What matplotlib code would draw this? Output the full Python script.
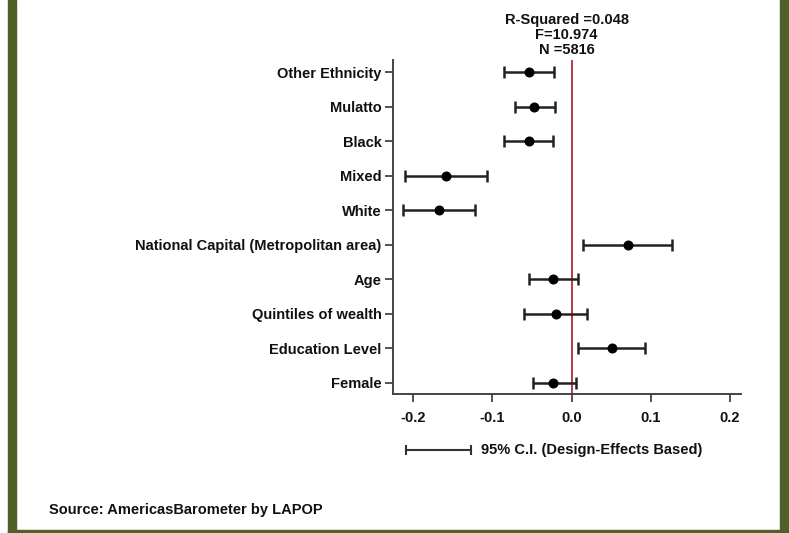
import matplotlib.pyplot as plt
from matplotlib.patches import Rectangle

plt.rcParams["font.family"] = ["Liberation Sans", "DejaVu Sans"]
plt.rcParams["font.weight"] = "bold"

# rows, bottom to top
labels = [
    "Female",
    "Education Level",
    "Quintiles of wealth",
    "Age",
    "National Capital (Metropolitan area)",
    "White",
    "Mixed",
    "Black",
    "Mulatto",
    "Other Ethnicity",
]
coef = [-0.023, 0.051, -0.020, -0.024, 0.071, -0.168, -0.159, -0.054, -0.047, -0.054]
ci_low = [-0.049, 0.008, -0.060, -0.054, 0.014, -0.213, -0.210, -0.085, -0.072, -0.085]
ci_high = [0.005, 0.093, 0.020, 0.008, 0.127, -0.122, -0.107, -0.023, -0.021, -0.022]

stats_text = "R-Squared =0.048\nF=10.974\nN =5816"
xticks = [-0.2, -0.1, 0.0, 0.1, 0.2]

W, H = 789, 533
FS = 10.5
fig = plt.figure(figsize=(W / 100, H / 100), dpi=100, facecolor="white")

# green frame (cropped screenshot: left, right, bottom)
green = "#4f6128"
for x0, y0, w, h in [(8, 0, 8, H), (780, 0, 9, H), (8, 0, 781, 3)]:
    fig.patches.append(Rectangle((x0 / W, y0 / H), w / W, h / H,
                                 transform=fig.transFigure, color=green, zorder=0))

ax = fig.add_axes([392.7 / W, 1 - 394 / H, (741 - 392.7) / W, (394 - 60) / H])
ax.set_facecolor("white")

ypos = list(range(len(labels)))
xerr = [[c - lo for c, lo in zip(coef, ci_low)], [hi - c for c, hi in zip(coef, ci_high)]]
ax.errorbar(coef, ypos, xerr=xerr, fmt="o", color="black", ecolor="#222222",
            elinewidth=1.8, capsize=4, capthick=1.8, markersize=6.2, zorder=3)
ax.axvline(0, color="#b5273a", lw=1.3, zorder=2)

ax.set_xlim(-0.226, 0.214)
ax.set_ylim(-0.32, 9.35)
ax.set_yticks(ypos)
ax.set_yticklabels(labels, fontsize=FS, fontweight="bold")
ax.set_xticks(xticks)
ax.set_xticklabels([f"{t:.1f}" for t in xticks], fontsize=FS, fontweight="bold")
for side in ["top", "right"]:
    ax.spines[side].set_visible(False)
for side in ["left", "bottom"]:
    ax.spines[side].set_color("#444444")
    ax.spines[side].set_linewidth(1.4)
ax.tick_params(axis="both", colors="#444444", width=1.3, length=6, labelcolor="#111111")
ax.tick_params(axis="y", pad=2)
ax.tick_params(axis="x", pad=6)

fig.text(566.7 / W, 1 - 13 / H, stats_text, ha="center", va="top",
         fontsize=FS, fontweight="bold", linespacing=1.1, color="#111111")

# legend for the CI bar
lx0, lx1, ly = 405.7 / W, 470.7 / W, 1 - 450 / H
fig.lines.append(plt.Line2D([lx0, lx1], [ly, ly], transform=fig.transFigure,
                            color="#333333", lw=1.5))
for lx in (lx0, lx1):
    fig.lines.append(plt.Line2D([lx, lx], [ly - 4 / H, ly + 4 / H], transform=fig.transFigure,
                                color="#333333", lw=1.5))
fig.text(481 / W, ly, "95% C.I. (Design-Effects Based)", ha="left", va="center",
         fontsize=FS, fontweight="bold", color="#111111")

fig.text(49 / W, 1 - 510 / H, "Source: AmericasBarometer by LAPOP", ha="left", va="center",
         fontsize=FS, fontweight="bold", color="#111111")

fig.savefig("out.png", dpi=100, facecolor="white")
